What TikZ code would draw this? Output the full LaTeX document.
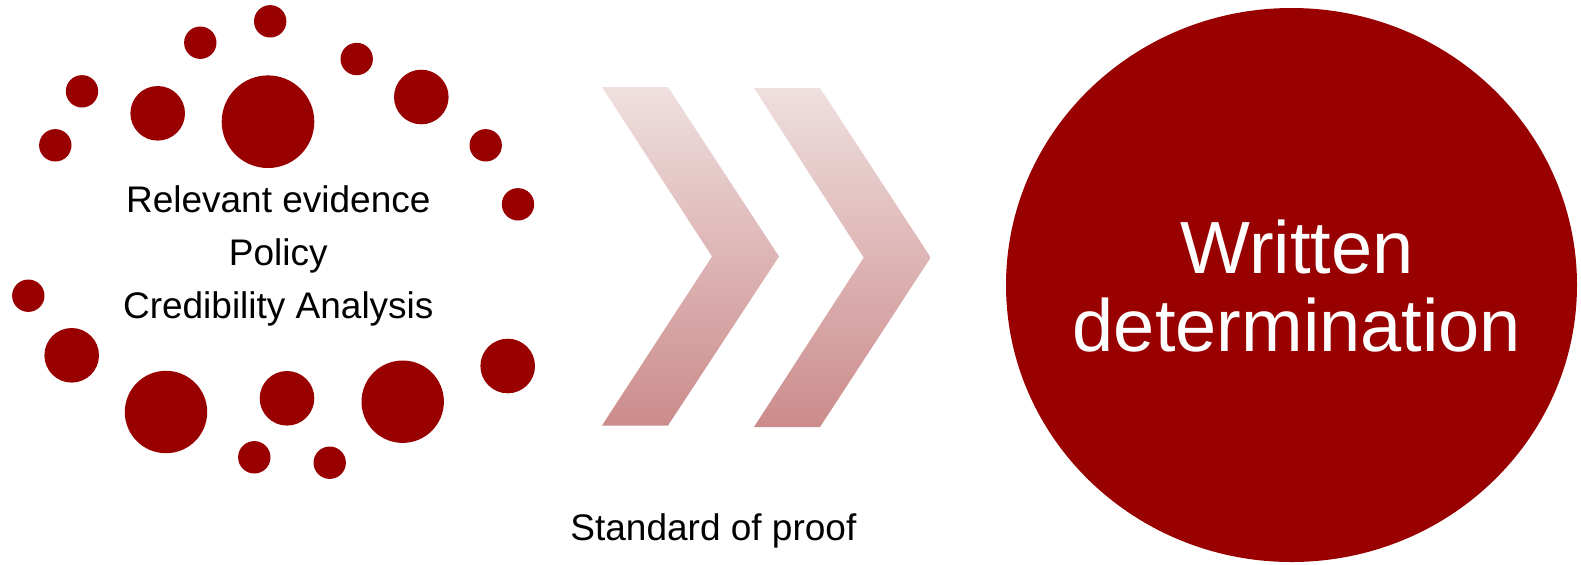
\documentclass[tikz,border=0pt]{standalone}
\usepackage{fontspec}
\setmainfont{Liberation Sans}
\usetikzlibrary{shapes.geometric}
\definecolor{darkred}{RGB}{153,0,0}
\definecolor{chevtop}{RGB}{239,223,223}
\definecolor{chevbot}{RGB}{204,139,139}
\tikzset{
  dot/.style={circle,fill=darkred,draw=none,inner sep=0pt,minimum size=#1*1pt},
  chev/.style={top color=chevtop,bottom color=chevbot,draw=none},
  lbl/.style={text=black,inner sep=0pt,font=\fontsize{18.5pt}{26.7pt}\selectfont},
  bigoval/.style={ellipse,fill=darkred,draw=none,inner sep=0pt,minimum width=285.5pt,minimum height=277pt},
  bigtext/.style={text=white,align=center,inner sep=0pt,font=\fontsize{37pt}{39pt}\selectfont}
}
\begin{document}
\begin{tikzpicture}[x=0.5pt,y=-0.5pt]
\useasboundingbox (0,0) rectangle (1581,564);
% cluster of dots
\node[dot=16.2] (d1) at (270.2,21.3) {};
\node[dot=16.2] (d2) at (200.3,42.7) {};
\node[dot=16.2] (d3) at (356.7,59) {};
\node[dot=16.2] (d4) at (82,91.3) {};
\node[dot=27.3] (d5) at (157.7,113.3) {};
\node[dot=46.3] (d6) at (268,121.7) {};
\node[dot=27.3] (d7) at (421.3,97) {};
\node[dot=16.2] (d8) at (55.3,145.3) {};
\node[dot=16.2] (d9) at (485.7,145.3) {};
\node[dot=16.2] (d10) at (518,204.3) {};
\node[dot=16.2] (d11) at (28.3,295.7) {};
\node[dot=27.3] (d12) at (71.7,355.3) {};
\node[dot=41.2] (d13) at (166,412) {};
\node[dot=27.3] (d14) at (287,398.3) {};
\node[dot=41.2] (d15) at (402.7,401.7) {};
\node[dot=27.3] (d16) at (507.7,366) {};
\node[dot=16.2] (d17) at (254.3,457.3) {};
\node[dot=16.2] (d18) at (329.7,462.7) {};
% left text
\node[lbl,align=center] (items) at (278.3,256) {Relevant evidence\\Policy\\Credibility Analysis};
% chevrons
\shade[chev] (602,87) -- (668,87) -- (779,256.5) -- (668,425.5) -- (602,425.5) -- (712,256.5) -- cycle;
\shade[chev] (754,88) -- (820,88) -- (930.7,257.5) -- (820,427) -- (754,427) -- (863.7,257.5) -- cycle;
\node[lbl,anchor=base] (std) at (713.4,540.7) {Standard of proof};
% result
\node[bigoval] (wd) at (1291.5,285) {};
\node[bigtext] (wdtext) at (1297,286) {Written\\determination};
\end{tikzpicture}
\end{document}
